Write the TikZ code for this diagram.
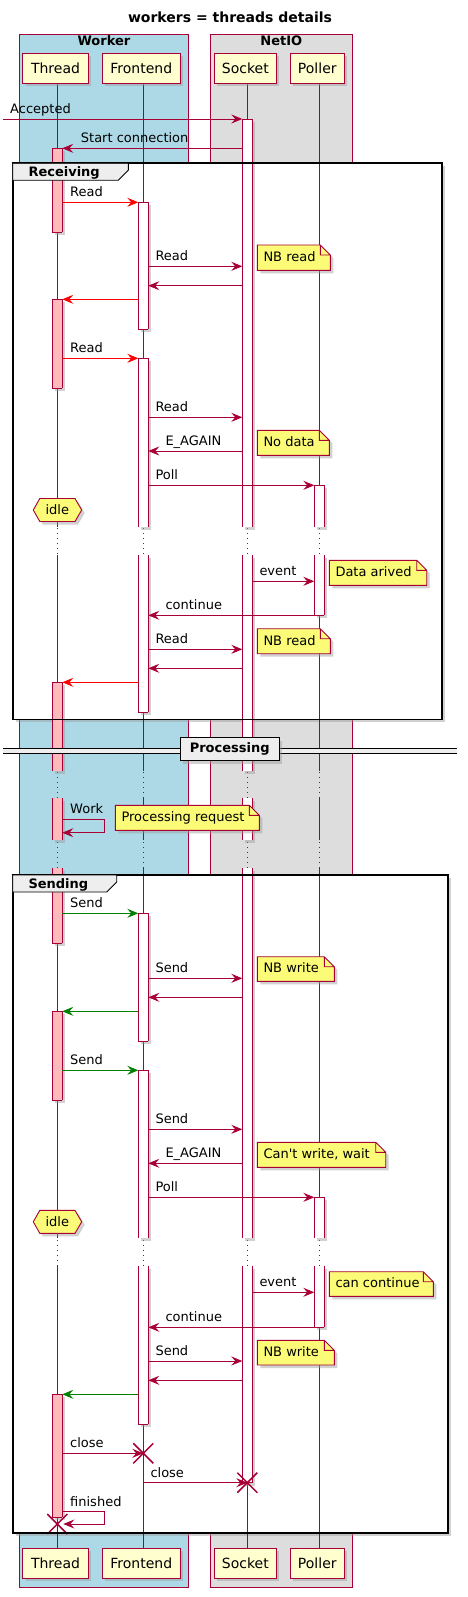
\documentclass[tikz,border=0pt]{standalone}
\usepackage{fontspec}
\setmainfont{DejaVu Sans}
\usetikzlibrary{arrows.meta,shadows}
\definecolor{crim}{HTML}{A80036}
\definecolor{partfill}{HTML}{FEFECE}
\definecolor{notefill}{HTML}{FBFB77}
\definecolor{actT}{HTML}{FFBBBB}
\definecolor{workerbg}{HTML}{ADD8E6}
\definecolor{netbg}{HTML}{DDDDDD}
\definecolor{grpfill}{HTML}{EEEEEE}
\definecolor{greenmsg}{HTML}{008000}
\definecolor{redmsg}{HTML}{FF0000}
\tikzset{
  shadowed/.style={drop shadow={shadow xshift=3pt,shadow yshift=-3pt,fill=black!40,opacity=0.45}},
  part/.style={draw=crim,line width=1.1pt,fill=partfill,minimum height=30pt,inner sep=0pt,font=\fontsize{14}{16}\selectfont,shadowed},
  life/.style={crim,line width=0.9pt},
  dotlife/.style={crim,line width=0.9pt,dash pattern=on 1pt off 4pt},
  msg/.style={crim,line width=0.9pt,-{Stealth[length=11pt,width=9pt,inset=4pt]}},
  redm/.style={redmsg},
  greenm/.style={greenmsg},
  lbl/.style={anchor=base west,inner sep=0pt,font=\fontsize{13}{15}\selectfont},
  bold13/.style={inner sep=0pt,font=\fontsize{13}{15}\selectfont\bfseries},
  destroy/.style={crim,line width=1.5pt},
}
\newcommand\actbar[6]{%
  \fill[#5,shadowed] (#2-5,#3) rectangle (#2+5,#4);
  \coordinate (#1) at (#2,#3);
  \draw[crim,line width=0.9pt] (#2-5,#3) -- (#2-5,#4) (#2+5,#3) -- (#2+5,#4);
  \ifcase#6 \draw[crim,line width=0.9pt] (#2-5,#3) -- (#2+5,#3) (#2-5,#4) -- (#2+5,#4);
  \or \draw[crim,line width=0.9pt] (#2-5,#3) -- (#2+5,#3);
  \or \draw[crim,line width=0.9pt] (#2-5,#4) -- (#2+5,#4);
  \or \fi
}
\newcommand\msg[7]{%
  \coordinate (#1s) at (#3,#5);
  \coordinate (#1e) at (#4,#5);
  \draw[msg,#2] (#1s) -- (#1e);
  \node[lbl] (#1l) at (#7,#5-5.5) {#6};
}
\newcommand\seqnote[6]{%
  \fill[notefill,shadowed] (#2,#3) -- (#4-10,#3) -- (#4,#3+10) -- (#4,#5) -- (#2,#5) -- cycle;
  \draw[crim,line width=0.9pt,line join=miter] (#2,#3) -- (#4-10,#3) -- (#4,#3+10) -- (#4,#5) -- (#2,#5) -- cycle (#4-10,#3) -- (#4-10,#3+10) -- (#4,#3+10);
  \node[lbl] (#1) at (#2+6,#5-8.6) {#6};
}
\newcommand\hexnode[3]{%
  \filldraw[fill=notefill,draw=crim,line width=0.9pt,shadowed] (#2-24,#3) -- (#2-17.5,#3-11.5) -- (#2+17.7,#3-11.5) -- (#2+24.4,#3) -- (#2+17.7,#3+11.5) -- (#2-17.5,#3+11.5) -- cycle;
  \node[inner sep=0pt,anchor=base,font=\fontsize{13}{15}\selectfont] (#1) at (#2,#3+4.3) {idle};
}
\newcommand\destroyX[3]{%
  \coordinate (#1) at (#2,#3);
  \draw[destroy] (#2-10,#3-10) -- (#2+10,#3+10) (#2-10,#3+10) -- (#2+10,#3-10);
}
\begin{document}
\begin{tikzpicture}[x=1pt,y=-1pt]
\useasboundingbox (0,0) rectangle (468,1597);
\fill[white] (0,0) rectangle (468,1597);
% boxes
\filldraw[fill=workerbg,draw=crim,line width=0.9pt] (19.5,34) rectangle (188.3,1587);
\filldraw[fill=netbg,draw=crim,line width=0.9pt] (210.3,34) rectangle (352.3,1587);
\node[inner sep=0pt,anchor=base,font=\fontsize{14}{16}\selectfont\bfseries] (title) at (230,22.3) {workers = threads details};
\node[bold13,anchor=base] (workerT) at (103.9,45.7) {Worker};
\node[bold13,anchor=base] (netioT) at (281.3,45.7) {NetIO};
% frame fills
\fill[white,shadowed] (12.7,163.3) rectangle (441.7,719.3);
\fill[white,shadowed] (12.7,875) rectangle (447.7,1532.7);
% lifelines
\foreach \x in {57.3,143.3,247.3,319.3} {
  \draw[life] (\x,83.3) -- (\x,526.7) (\x,555.3) -- (\x,770.7) (\x,798.3) -- (\x,840.3) (\x,868.3) -- (\x,1238) (\x,1265.7) -- (\x,1548.3);
  \draw[dotlife] (\x,528) -- (\x,555.3) (\x,772) -- (\x,798.3) (\x,842) -- (\x,868.3) (\x,1239.5) -- (\x,1265.7);
}
% participants
\node[part,minimum width=65.6pt] (thTop) at (55.5,68.3) {Thread};
\node[part,minimum width=78pt] (feTop) at (141.3,68.3) {Frontend};
\node[part,minimum width=62pt] (soTop) at (245.3,68.3) {Socket};
\node[part,minimum width=54pt] (poTop) at (317.3,68.3) {Poller};
\node[part,minimum width=65.6pt] (thBot) at (55.5,1563.3) {Thread};
\node[part,minimum width=78pt] (feBot) at (141.3,1563.3) {Frontend};
\node[part,minimum width=62pt] (soBot) at (245.3,1563.3) {Socket};
\node[part,minimum width=54pt] (poBot) at (317.3,1563.3) {Poller};
% activation bars
\actbar{tA1}{57.3}{148.3}{232.3}{actT}{0}
\actbar{tA2}{57.3}{299.3}{388.3}{actT}{0}
\actbar{tA3}{57.3}{682.3}{770.7}{actT}{1}
\actbar{tA3b}{57.3}{798.3}{840.3}{actT}{3}
\actbar{tA3c}{57.3}{868.3}{943.3}{actT}{2}
\actbar{tA5}{57.3}{1011.3}{1100.3}{actT}{0}
\actbar{tA6}{57.3}{1394.3}{1517}{actT}{0}
\actbar{fA1}{143.3}{202.3}{329.3}{white}{0}
\actbar{fA2}{143.3}{358.3}{526.7}{white}{1}
\actbar{fA2b}{143.3}{555.3}{712.3}{white}{2}
\actbar{fA3}{143.3}{913.3}{1041.3}{white}{0}
\actbar{fA4}{143.3}{1070.3}{1238}{white}{1}
\actbar{fA4b}{143.3}{1265.7}{1424}{white}{2}
\actbar{sA1}{247.3}{119}{526.7}{white}{1}
\actbar{sA1b}{247.3}{555.3}{770.7}{white}{3}
\actbar{sA1c}{247.3}{798.3}{840.3}{white}{3}
\actbar{sA1d}{247.3}{868.3}{1238}{white}{3}
\actbar{sA1e}{247.3}{1265.7}{1482.7}{white}{2}
\actbar{pA1}{319.3}{485.3}{526.7}{white}{1}
\actbar{pA1b}{319.3}{555.3}{615.3}{white}{2}
\actbar{pA2}{319.3}{1197.3}{1238}{white}{1}
\actbar{pA2b}{319.3}{1265.7}{1327.3}{white}{2}
% messages
\msg{m1}{}{3.3}{242.3}{119}{Accepted}{10}
\msg{m2}{}{242.3}{62.3}{148.3}{Start connection}{80.7}
\msg{m3}{redm}{62.3}{138.3}{202.3}{Read}{70}
\msg{m4}{}{148.3}{242.3}{266.3}{Read}{155.3}
\msg{m5}{}{242.3}{148.3}{285.7}{}{160}
\msg{m6}{redm}{138.3}{62.3}{299.3}{}{70}
\msg{m7}{redm}{62.3}{138.3}{358.3}{Read}{70}
\msg{m8}{}{148.3}{242.3}{417.3}{Read}{155.3}
\msg{m9}{}{242.3}{148.3}{451}{E\_AGAIN}{165.3}
\msg{m10}{}{148.3}{314.3}{485.3}{Poll}{155.3}
\msg{m11}{}{252.3}{314.3}{581.3}{event}{259.3}
\msg{m12}{}{314.3}{148.3}{615.3}{continue}{165.3}
\msg{m13}{}{148.3}{242.3}{649.3}{Read}{155.3}
\msg{m14}{}{242.3}{148.3}{668.3}{}{160}
\msg{m15}{redm}{138.3}{62.3}{682.3}{}{70}
\coordinate (wks) at (62.3,819.3);
\coordinate (wke) at (62.3,832.7);
\draw[msg] (wks) -- ++(42.4,0) |- (wke);
\node[lbl] (wkl) at (70,813.8) {Work};
\msg{m17}{greenm}{62.3}{138.3}{913.3}{Send}{70}
\msg{m18}{}{148.3}{242.3}{978.3}{Send}{155.3}
\msg{m19}{}{242.3}{148.3}{997.3}{}{160}
\msg{m20}{greenm}{138.3}{62.3}{1011.3}{}{70}
\msg{m21}{greenm}{62.3}{138.3}{1070.3}{Send}{70}
\msg{m22}{}{148.3}{242.3}{1129.3}{Send}{155.3}
\msg{m23}{}{242.3}{148.3}{1163.3}{E\_AGAIN}{165.3}
\msg{m24}{}{148.3}{314.3}{1197.3}{Poll}{155.3}
\msg{m25}{}{252.3}{314.3}{1292.3}{event}{259.3}
\msg{m26}{}{314.3}{148.3}{1327.3}{continue}{165.3}
\msg{m27}{}{148.3}{242.3}{1361}{Send}{155.3}
\msg{m28}{}{242.3}{148.3}{1380.3}{}{160}
\msg{m29}{greenm}{138.3}{62.3}{1394.3}{}{70}
\msg{m30}{}{62.3}{143.3}{1453.3}{close}{70}
\msg{m31}{}{143.3}{247.3}{1482.7}{close}{150.3}
\coordinate (fns) at (62.3,1511.7);
\coordinate (fne) at (63.3,1524);
\draw[msg] (fns) -- ++(42.4,0) |- (fne);
\node[lbl] (fnl) at (70,1506.2) {finished};
% destroys
\destroyX{xF}{143.3}{1453.3}
\destroyX{xS}{247.3}{1482.7}
\destroyX{xT}{57.3}{1524}
% hexagons
\hexnode{idle1}{57.3}{510}
\hexnode{idle2}{57.3}{1221.8}
% notes
\seqnote{n1}{257.3}{245}{330.3}{270.3}{NB read}
\seqnote{n2}{257.3}{430.3}{329.3}{455.3}{No data}
\seqnote{n3}{329.3}{560.3}{426.7}{585.3}{Data arived}
\seqnote{n4}{257.3}{628.7}{330.3}{653.7}{NB read}
\seqnote{n5}{115.3}{805.3}{259.3}{830.3}{Processing request}
\seqnote{n6}{257.3}{956.7}{334.3}{981.3}{NB write}
\seqnote{n7}{257.3}{1142.3}{385.7}{1167.3}{Can\textquotesingle t write, wait}
\seqnote{n8}{329.3}{1271.7}{433.3}{1296.3}{can continue}
\seqnote{n9}{257.3}{1340.4}{334.3}{1365}{NB write}
% frame borders and tabs
\draw[black,line width=1.6pt] (12.7,163.3) rectangle (441.7,719.3);
\filldraw[fill=grpfill,draw=black,line width=0.9pt] (12.7,163.3) -- (128.3,163.3) -- (128.3,170.3) -- (118.3,180.3) -- (12.7,180.3) -- cycle;
\node[bold13,anchor=base west] (recvT) at (28.3,176.7) {Receiving};
\draw[black,line width=1.6pt] (12.7,875) rectangle (447.7,1532.7);
\filldraw[fill=grpfill,draw=black,line width=0.9pt] (12.7,875) -- (116.7,875) -- (116.7,882) -- (106.7,892) -- (12.7,892) -- cycle;
\node[bold13,anchor=base west] (sendT) at (28.3,888.5) {Sending};
% divider
\fill[grpfill] (3.3,748.7) rectangle (456.7,753.3);
\draw[black,line width=0.9pt] (3.3,748.7) -- (456.7,748.7) (3.3,753.3) -- (456.7,753.3);
\node[draw=black,line width=1.4pt,fill=grpfill,minimum width=99pt,minimum height=23pt,bold13,shadowed] (proc) at (229.7,749) {Processing};
\end{tikzpicture}
\end{document}
